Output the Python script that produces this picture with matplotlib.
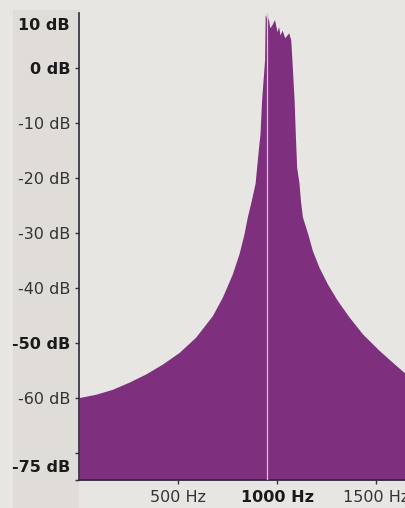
import matplotlib
matplotlib.use("Agg")
import matplotlib.pyplot as plt
from matplotlib.patches import Rectangle

# Spectrum (Hz, dB)
freqs = [0, 84, 168, 252, 337, 421, 505, 589, 673, 724, 774, 808, 833, 850, 870, 889, 897, 905, 914, 922,
         937, 940, 945, 951, 955, 963, 973, 987, 1000, 1008, 1015, 1025, 1039, 1059, 1069, 1075, 1086,
         1092, 1099, 1111, 1118, 1128, 1155, 1178, 1212, 1254, 1304, 1363, 1431, 1515, 1599, 1651]
levels = [-60.0, -59.4, -58.5, -57.2, -55.7, -53.9, -51.8, -49.0, -45.1, -41.7, -37.5, -33.8, -30.2, -27.1, -24.1, -21.0, -18.0, -15.0, -11.9, -5.8,
          1.5, 9.7, 9.3, 8.4, 9.3, 7.3, 7.8, 8.8, 6.6, 7.5, 6.0, 6.9, 5.5, 6.4, 5.1, 1.5, -5.8,
          -11.9, -18.1, -21.0, -24.1, -27.1, -30.2, -33.2, -36.3, -39.3, -42.3, -45.3, -48.4, -51.4, -54.1, -55.7]
gap_freq = 948

ytick_vals = [0, -10, -20, -30, -40, -50, -60, -70, -75]
ytick_labels = ["0 dB", "-10 dB", "-20 dB", "-30 dB", "-40 dB", "-50 dB", "-60 dB", "", ""]
bold_y = ["0 dB", "-50 dB"]
xtick_vals = [500, 1000, 1500]
xtick_labels = ["500 Hz", "1000 Hz", "1500 Hz"]
top_label, bottom_label = "10 dB", "-75 dB"

W, H = 406, 508
FS = 11.5
fig = plt.figure(figsize=(W / 100, H / 100), dpi=100)
paper = "#e8e6e2"
fig.patch.set_facecolor(paper)
fig.patches.append(Rectangle((13 / W, 0), (79 - 13) / W, (H - 10) / H,
                             transform=fig.transFigure, facecolor="#e0ddd8",
                             edgecolor="none", zorder=-10))

ax = fig.add_axes([79 / W, (H - 480) / H, (W - 79) / W, (480 - 13) / H])
ax.set_facecolor(paper)
purple = "#7e2f7e"
ax.fill_between(freqs, levels, -75, color=purple, linewidth=0, zorder=2)
ax.axvline(gap_freq, color="#cfc6d8", lw=0.9, zorder=3)

ax.set_xlim(0, 1651)
ax.set_ylim(-75, 10)
for s in ["top", "right"]:
    ax.spines[s].set_visible(False)
for s in ["left", "bottom"]:
    ax.spines[s].set_color("#2a2a3a")
    ax.spines[s].set_linewidth(1.2)

ax.set_yticks(ytick_vals)
ax.set_yticklabels(ytick_labels)
ax.set_xticks(xtick_vals)
ax.set_xticklabels(xtick_labels)
ax.tick_params(axis="y", length=3, width=1, color="#333333", pad=3, labelsize=FS, labelcolor="#333333")
ax.tick_params(axis="x", length=3, width=1, color="#333333", pad=4, labelsize=FS, labelcolor="#333333")
for t in ax.get_yticklabels():
    if t.get_text() in bold_y:
        t.set_fontweight("bold")
        t.set_color("#1a1a1a")
for t in ax.get_xticklabels():
    if t.get_text() == "1000 Hz":
        t.set_fontweight("bold")
        t.set_color("#1a1a1a")

tr = ax.get_yaxis_transform()
ax.text(-0.028, 7.8, top_label, transform=tr, ha="right", va="center",
        fontsize=FS, fontweight="bold", color="#1a1a1a")
ax.text(-0.028, -72.8, bottom_label, transform=tr, ha="right", va="center",
        fontsize=FS, fontweight="bold", color="#1a1a1a")

fig.savefig("out.png", dpi=100, facecolor=paper)
